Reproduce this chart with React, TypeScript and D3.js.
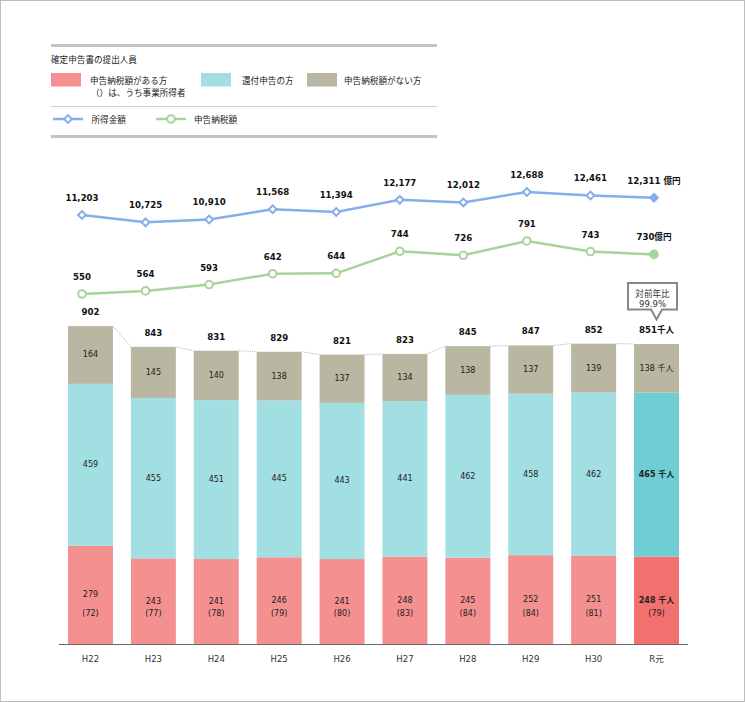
import React from 'react';
import * as d3 from 'd3';

const categories = ['H22', 'H23', 'H24', 'H25', 'H26', 'H27', 'H28', 'H29', 'H30', 'R元'];
const paying = [279, 243, 241, 246, 241, 248, 245, 252, 251, 248];
const business = [72, 77, 78, 79, 80, 83, 84, 84, 81, 79];
const refund = [459, 455, 451, 445, 443, 441, 462, 458, 462, 465];
const nonPaying = [164, 145, 140, 138, 137, 134, 138, 137, 139, 138];
const totals = [902, 843, 831, 829, 821, 823, 845, 847, 852, 851];
const income = [11203, 10725, 10910, 11568, 11394, 12177, 12012, 12688, 12461, 12311];
const tax = [550, 564, 593, 642, 644, 744, 726, 791, 743, 730];
const yoyText = ['対前年比', '99.9%'];

const keys = ['paying', 'refund', 'nonPaying'];
const colors: Record<string, string> = { paying: '#F4908F', refund: '#A2DFE2', nonPaying: '#B9B6A2' };
const hiColors: Record<string, string> = { paying: '#F2706E', refund: '#6ECED4', nonPaying: '#B9B6A2' };
const BLUE = '#86AEEA';
const GREEN = '#A6D59B';
const NUM = "'DejaVu Sans', 'Noto Sans CJK JP', sans-serif";
const JP = "'Noto Sans CJK JP', sans-serif";

export default function App() {
  const W = 745, H = 702;
  const baseY = 644;
  const x = d3.scaleBand<string>().domain(categories).range([59, 688]).paddingInner(0.285).paddingOuter(0.143);
  const y = d3.scaleLinear().domain([0, 1000]).range([baseY, baseY - 352.5]);
  const xl = d3.scalePoint<string>().domain(categories).range([82, 654]);
  const yIncome = d3.scaleLinear().domain([10000, 13000]).range([233.6, 187.1]);
  const yTax = d3.scaleLinear().domain([500, 800]).range([305, 239]);

  const table = categories.map((c, i) => ({ cat: c, paying: paying[i], refund: refund[i], nonPaying: nonPaying[i] }));
  const series = d3.stack<any>().keys(keys)(table);
  const last = categories.length - 1;
  const bw = x.bandwidth();
  const tops = series[series.length - 1].map((d) => y(d[1]));

  const incomeLine = d3.line<number>().x((_, i) => xl(categories[i])!).y((d) => yIncome(d))(income) || '';
  const taxLine = d3.line<number>().x((_, i) => xl(categories[i])!).y((d) => yTax(d))(tax) || '';
  const diamond = d3.symbol().type(d3.symbolSquare).size(30)() || '';

  const fmt = d3.format(',');
  const cx = (c: string) => x(c)! + bw / 2;

  // callout
  const calloutX = cx(categories[last]);
  const cTop = 283, cBot = 309.5, cL = 628, cR = 677;

  return (
    <svg width={W} height={H} style={{ position: 'absolute', left: 0, top: 0, background: '#fff' }}>
      <rect x={0.5} y={0.5} width={W - 1} height={H - 1} fill="#fff" stroke="#BDBDBD" />

      {/* Legend */}
      <line x1={51} x2={437} y1={45.5} y2={45.5} stroke="#C4C4C4" strokeWidth={3} />
      <line x1={51} x2={437} y1={106.5} y2={106.5} stroke="#D0D0D0" strokeWidth={1} />
      <line x1={51} x2={437} y1={136.5} y2={136.5} stroke="#C4C4C4" strokeWidth={3} />
      <text x={51} y={59} fontFamily={JP} fontSize={8.6} fill="#222" dominantBaseline="central">確定申告書の提出人員</text>
      <rect x={51} y={73} width={30} height={13.5} fill={colors.paying} />
      <text x={90} y={80} fontFamily={JP} fontSize={8.6} fill="#222" dominantBaseline="central">申告納税額がある方</text>
      <text x={91} y={92.3} fontFamily={JP} fontSize={8.6} fill="#222" dominantBaseline="central">（）は、うち事業所得者</text>
      <rect x={201} y={73} width={30} height={13.5} fill={colors.refund} />
      <text x={242} y={80} fontFamily={JP} fontSize={8.6} fill="#222" dominantBaseline="central">還付申告の方</text>
      <rect x={307} y={73} width={30} height={13.5} fill={colors.nonPaying} />
      <text x={344} y={80} fontFamily={JP} fontSize={8.6} fill="#222" dominantBaseline="central">申告納税額がない方</text>
      <line x1={53} x2={83} y1={119} y2={119} stroke={BLUE} strokeWidth={2.5} />
      <path d={diamond} transform="translate(68,119) rotate(45)" fill="#fff" stroke={BLUE} strokeWidth={2} />
      <text x={91.5} y={119} fontFamily={JP} fontSize={8.6} fill="#222" dominantBaseline="central">所得金額</text>
      <line x1={156} x2={186} y1={119} y2={119} stroke={GREEN} strokeWidth={2.5} />
      <circle cx={171} cy={119} r={3.8} fill="#fff" stroke={GREEN} strokeWidth={2} />
      <text x={194} y={119} fontFamily={JP} fontSize={8.6} fill="#222" dominantBaseline="central">申告納税額</text>

      {/* Bars */}
      {series.map((s) => (
        <g key={s.key}>
          {s.map((d, i) => (
            <rect key={i} x={x(categories[i])} y={y(d[1])} width={bw} height={y(d[0]) - y(d[1])}
              fill={i === last ? hiColors[s.key] : colors[s.key]} />
          ))}
        </g>
      ))}

      {/* connectors */}
      {categories.slice(0, last).map((c, i) => (
        <line key={c} x1={x(c)! + bw} y1={tops[i]} x2={x(categories[i + 1])!} y2={tops[i + 1]}
          stroke="#A8A8A8" strokeWidth={0.8} strokeDasharray="1.2,1" />
      ))}

      {/* segment labels */}
      {series.map((s) => s.map((d, i) => {
        const mid = (y(d[0]) + y(d[1])) / 2;
        const isLast = i === last;
        const bold = isLast && s.key !== 'nonPaying';
        const label = isLast ? `${d[1] - d[0]} 千人` : `${d[1] - d[0]}`;
        return (
          <text key={s.key + i} x={cx(categories[i])} y={mid} textAnchor="middle" dominantBaseline="central"
            fontFamily={NUM} fontSize={8} fontWeight={bold ? 'bold' : 'normal'} fill="#222">{label}</text>
        );
      }))}
      {business.map((v, i) => (
        <text key={'b' + i} x={cx(categories[i])} y={baseY - 31} textAnchor="middle" dominantBaseline="central"
          fontFamily={NUM} fontSize={8} fill="#222">({v})</text>
      ))}

      {/* totals */}
      {totals.map((v, i) => (
        <text key={'t' + i} x={cx(categories[i])} y={tops[i] - 14} textAnchor="middle" dominantBaseline="central"
          fontFamily={NUM} fontSize={8.6} fontWeight="bold" fill="#111">{i === last ? `${v}千人` : `${v}`}</text>
      ))}

      {/* axis */}
      <line x1={59} x2={688} y1={baseY + 0.5} y2={baseY + 0.5} stroke="#666" strokeWidth={1} />
      {categories.map((c) => (
        <text key={c} x={cx(c)} y={658.5} textAnchor="middle" dominantBaseline="central"
          fontFamily={NUM} fontSize={8.5} fill="#333">{c}</text>
      ))}

      {/* lines */}
      <path d={incomeLine} fill="none" stroke={BLUE} strokeWidth={2.5} />
      {income.map((v, i) => (
        <path key={'im' + i} d={diamond} transform={`translate(${xl(categories[i])},${yIncome(v)}) rotate(45)`}
          fill={i === last ? BLUE : '#fff'} stroke={BLUE} strokeWidth={2} />
      ))}
      {income.map((v, i) => (
        <text key={'il' + i} x={xl(categories[i])} y={yIncome(v) - 17} textAnchor="middle" dominantBaseline="central"
          fontFamily={NUM} fontSize={8.6} fontWeight="bold" fill="#111">{i === last ? `${fmt(v)} 億円` : fmt(v)}</text>
      ))}
      <path d={taxLine} fill="none" stroke={GREEN} strokeWidth={2.5} />
      {tax.map((v, i) => (
        <circle key={'tm' + i} cx={xl(categories[i])} cy={yTax(v)} r={3.8}
          fill={i === last ? GREEN : '#fff'} stroke={GREEN} strokeWidth={2} />
      ))}
      {tax.map((v, i) => (
        <text key={'tl' + i} x={xl(categories[i])} y={yTax(v) - 17} textAnchor="middle" dominantBaseline="central"
          fontFamily={NUM} fontSize={8.6} fontWeight="bold" fill="#111">{i === last ? `${v}億円` : `${v}`}</text>
      ))}

      {/* callout */}
      <path d={`M${cL},${cTop} H${cR} V${cBot} H${calloutX + 5.5} L${calloutX},${cBot + 10} L${calloutX - 5.5},${cBot} H${cL} Z`}
        fill="#fff" stroke="#888" strokeWidth={2} />
      <text x={(cL + cR) / 2} y={292.5} textAnchor="middle" dominantBaseline="central" fontFamily={JP} fontSize={8.6} fill="#333">{yoyText[0]}</text>
      <text x={(cL + cR) / 2} y={304} textAnchor="middle" dominantBaseline="central" fontFamily={NUM} fontSize={8.5} fill="#333">{yoyText[1]}</text>
    </svg>
  );
}
